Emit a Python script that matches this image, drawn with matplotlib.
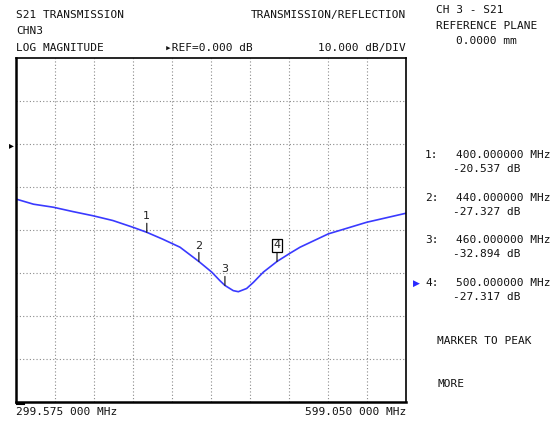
import matplotlib
matplotlib.use("Agg")
import matplotlib.pyplot as plt

# trace (MHz, dB)
freq = [299.575, 313.0, 328.2, 343.0, 358.9, 374.0, 389.7, 400.0, 412.0, 425.5,
        440.0, 449.9, 456.2, 460.0, 466.4, 470.3, 476.7, 481.8, 489.5, 500.0,
        510.0, 517.7, 539.4, 568.9, 599.05]
mag = [-12.8, -14.0, -14.7, -15.7, -16.7, -17.8, -19.4, -20.537, -22.1, -24.0,
       -27.327, -29.8, -31.8, -32.894, -34.1, -34.35, -33.6, -32.2, -29.8, -27.317,
       -25.4, -24.0, -20.9, -18.2, -16.1]

marker_ids = ["1", "2", "3", "4"]
marker_freq = [400.0, 440.0, 460.0, 500.0]
marker_mag = [-20.537, -27.327, -32.894, -27.317]
marker_freq_txt = ["400.000000 MHz", "440.000000 MHz", "460.000000 MHz", "500.000000 MHz"]
marker_mag_txt = ["-20.537 dB", "-27.327 dB", "-32.894 dB", "-27.317 dB"]
active_marker = 3

f_start, f_stop = 299.575, 599.05
ref_level, db_per_div, n_ydiv, ref_div = 0.0, 10.0, 8, 2

W, H = 559, 424
fig = plt.figure(figsize=(W / 100, H / 100), dpi=100)
mono = "DejaVu Sans Mono"
fs = 8.0


def px(x, y):
    return x / W, 1 - y / H


def txt(x, y, s, ha="left", **kw):
    fig.text(*px(x, y), s, ha=ha, va="center", family=mono, fontsize=fs,
             color="#111111", **kw)


# plot area
left, top, right, bottom = 16, 58, 406, 402
ax = fig.add_axes([left / W, 1 - bottom / H, (right - left) / W, (bottom - top) / H])
ymax = ref_level + ref_div * db_per_div
ymin = ymax - n_ydiv * db_per_div
ax.set_xlim(f_start, f_stop)
ax.set_ylim(ymin, ymax)
ax.set_xticks([f_start + i * (f_stop - f_start) / 10 for i in range(1, 10)])
ax.set_yticks([ymin + i * db_per_div for i in range(1, n_ydiv)])
ax.tick_params(length=0, labelbottom=False, labelleft=False)
ax.grid(True, color="#8a8a8a", linestyle=(0, (1, 2)), linewidth=0.8)
for sp in ax.spines.values():
    sp.set_linewidth(1.2)
ax.spines["left"].set_linewidth(1.8)
ax.spines["bottom"].set_linewidth(1.8)

ax.plot(freq, mag, color="#3a3aff", linewidth=1.2)

# markers on the trace
for i, (m, f, v) in enumerate(zip(marker_ids, marker_freq, marker_mag)):
    ax.annotate("", xy=(f, v), xytext=(0, 9), textcoords="offset pixels",
                arrowprops=dict(arrowstyle="-", color="#222222", lw=0.9,
                                shrinkA=0, shrinkB=0))
    box = dict(boxstyle="square,pad=0.15", fc="white", ec="black", lw=0.9) if i == active_marker else None
    ax.annotate(m, xy=(f, v), xytext=(0, 16), textcoords="offset pixels",
                ha="center", va="center", fontsize=8, family="DejaVu Sans",
                color="#222222", bbox=box)

# reference pointer and start mark
fig.text(*px(11, 145), "\u25B8", ha="center", va="center", fontsize=7, color="black")
fig.add_artist(plt.Line2D([17 / W, 24 / W], [1 - 404 / H, 1 - 404 / H],
                          color="black", linewidth=1.5))

# header
txt(16, 15, "S21 TRANSMISSION")
txt(16, 31, "CHN3")
txt(16, 48, "LOG MAGNITUDE")
txt(165, 48, "\u25B8REF=0.000 dB")
txt(406, 15, "TRANSMISSION/REFLECTION", ha="right")
txt(406, 48, "10.000 dB/DIV", ha="right")

txt(436, 10, "CH 3 - S21")
txt(436, 26, "REFERENCE PLANE")
txt(456, 41, "0.0000 mm")

# frequency axis labels
txt(16, 412, f"{f_start:.3f} 000 MHz")
txt(406, 412, f"{f_stop:.3f} 000 MHz", ha="right")

# marker readouts
row_y = [155, 198, 240, 283]
for i, y in enumerate(row_y):
    txt(425, y, marker_ids[i] + ":")
    txt(456, y, marker_freq_txt[i])
    txt(453, y + 14, marker_mag_txt[i])
fig.text(*px(416, row_y[active_marker]), "\u25B6", ha="center", va="center",
         fontsize=6.5, color="#2a2aff")

txt(437, 341, "MARKER TO PEAK")
txt(437, 384, "MORE")

fig.savefig("out.png", dpi=100)
